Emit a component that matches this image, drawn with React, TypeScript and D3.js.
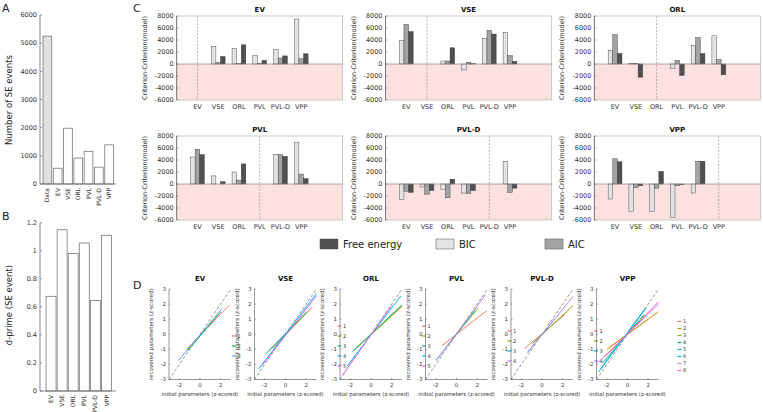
import React from 'react';
import * as d3 from 'd3';

const FONT = "'DejaVu Sans', sans-serif";

// Panel A
const catsA = ['Data', 'EV', 'VSE', 'ORL', 'PVL', 'PVL-D', 'VPP'];
const valsA = [5250, 560, 1980, 920, 1160, 600, 1390];
const ticksA = [0, 1000, 2000, 3000, 4000, 5000, 6000];

// Panel B
const catsB = ['EV', 'VSE', 'ORL', 'PVL', 'PVL-D', 'VPP'];
const valsB = [0.675, 1.15, 0.98, 1.055, 0.645, 1.11];
const ticksB = [0, 0.2, 0.4, 0.6, 0.8, 1, 1.2];

// Panel C
const models = ['EV', 'VSE', 'ORL', 'PVL', 'PVL-D', 'VPP'];
const ticksC = [-6000, -4000, -2000, 0, 2000, 4000, 6000, 8000];
const bicC = [
  [null, 2900, 2600, 1400, 2400, 7500],
  [3900, null, 500, -1000, 4300, 5300],
  [2300, 100, null, -700, 3100, 4700],
  [4500, 1350, 2000, null, 4900, 6900],
  [-2600, -500, -900, -1500, null, 3800],
  [-2500, -4600, -4600, -5600, -1500, null],
];
const aicC = [
  [null, 250, 50, 100, 1000, 900],
  [6600, null, 500, 300, 5600, 1400],
  [4900, 100, null, 600, 4400, 750],
  [5800, 0, 650, null, 4900, 1650],
  [-1200, -1700, -2300, -1600, null, -1400],
  [4200, -600, -700, -300, 3800, null],
];
const feC = [
  [null, 1250, 3200, 600, 1350, 1700],
  [5400, null, 2700, 50, 5000, 450],
  [1750, -2200, null, -1900, 1750, -1800],
  [4900, 400, 3350, null, 4600, 900],
  [-1400, -1100, 800, -1100, null, -700],
  [3700, -300, 2100, -100, 3800, null],
];
const legendC = ['Free energy', 'BIC', 'AIC'];

// Panel D : [x0, y0, x1, y1] for each parameter regression line
const linesEV = [[-1.3, -1.0, 2.8, 1.9], [-1.2, -1.1, 2.0, 1.5], [-2.1, -1.75, 2.2, 1.75]];
const linesVSE = [[-1.6, -1.1, 2.6, 1.8], [-1.2, -0.95, 2.2, 1.55], [-1.9, -1.3, 2.0, 1.45], [-2.6, -2.3, 3.0, 2.7], [-2.3, -2.1, 3.0, 2.55]];
const linesORL = [[-1.6, -1.05, 3.0, 1.9], [-1.3, -0.85, 3.0, 1.85], [-1.8, -1.15, 3.0, 1.95], [-2.3, -2.1, 2.9, 2.55], [-2.8, -2.75, 2.0, 1.9]];
const linesPVL = [[-1.4, -0.75, 2.9, 1.55], [-1.0, -0.85, 2.1, 1.75], [-2.0, -1.75, 1.8, 1.6], [-1.8, -1.6, 2.8, 2.6]];
const linesPVLD = [[-1.7, -0.95, 2.2, 1.3], [-0.9, -0.6, 3.0, 1.9], [-1.4, -1.2, 1.2, 1.0], [-1.4, -1.2, 3.0, 2.5]];
const linesVPP = [[-1.8, -0.9, 2.0, 1.0], [-2.0, -1.0, 3.0, 1.5], [-1.6, -1.1, 1.7, 1.25], [-2.4, -1.9, 1.6, 1.3], [-2.8, -2.5, 1.6, 1.6], [-2.6, -2.3, 1.8, 1.75], [-2.9, -1.9, 3.0, 2.0], [-2.2, -1.5, 3.0, 2.15]];
const dLines = [linesEV, linesVSE, linesORL, linesPVL, linesPVLD, linesVPP];
const ticksDY = [-3, -2, -1, 0, 1, 2, 3];
const ticksDX = [-2, 0, 2];

const pal3 = ['#F8766D', '#00BA38', '#619CFF'];
const pal4 = ['#F8766D', '#7CAE00', '#00BFC4', '#C77CFF'];
const pal5 = ['#F8766D', '#A3A500', '#00BF7D', '#00B0F6', '#E76BF3'];
const pal8 = ['#F8766D', '#CD9600', '#7CAE00', '#00BE67', '#00BFC4', '#00A9FF', '#C77CFF', '#FF61CC'];
const palFor = (n: number) => (n === 3 ? pal3 : n === 4 ? pal4 : n === 5 ? pal5 : pal8);

const AX = '#555';
const TXT = '#333';

function PanelA() {
  const y = d3.scaleLinear().domain([0, 6000]).range([184, 15]);
  const x = d3.scaleBand().domain(catsA).range([42.5, 114]).paddingInner(0.15).paddingOuter(0.05);
  return (
    <g>
      <text x={2} y={12} fontSize={11} fontFamily={FONT} fill="#222">A</text>
      {catsA.map((c, i) => (
        <rect key={c} x={x(c)} y={y(valsA[i])} width={x.bandwidth()} height={y(0) - y(valsA[i])}
          fill={i === 0 ? '#e0e0e0' : '#fff'} stroke="#777" strokeWidth={0.8} />
      ))}
      <line x1={40} x2={40} y1={15} y2={184} stroke={AX} strokeWidth={0.7} />
      <line x1={40} x2={116} y1={184} y2={184} stroke={AX} strokeWidth={0.7} />
      {ticksA.map(t => (
        <g key={t}>
          <line x1={40} x2={42} y1={y(t)} y2={y(t)} stroke={AX} strokeWidth={0.6} />
          <text x={37} y={y(t)} dy="0.35em" textAnchor="end" fontSize={6.5} fontFamily={FONT} fill={TXT}>{t}</text>
        </g>
      ))}
      {catsA.map(c => (
        <text key={c} transform={`translate(${(x(c) as number) + x.bandwidth() / 2},188) rotate(-90)`}
          textAnchor="end" dy="0.35em" fontSize={6} fontFamily={FONT} fill={TXT}>{c}</text>
      ))}
      <text transform={`translate(12,100) rotate(-90)`} textAnchor="middle" fontSize={8.5} fontFamily={FONT} fill="#222">Number of SE events</text>
    </g>
  );
}

function PanelB() {
  const y = d3.scaleLinear().domain([0, 1.2]).range([391, 222.7]);
  const x = d3.scaleBand().domain(catsB).range([45.5, 112]).paddingInner(0.1).paddingOuter(0.05);
  return (
    <g>
      <text x={2} y={220} fontSize={11} fontFamily={FONT} fill="#222">B</text>
      {catsB.map((c, i) => (
        <rect key={c} x={x(c)} y={y(valsB[i])} width={x.bandwidth()} height={y(0) - y(valsB[i])}
          fill="#fff" stroke="#777" strokeWidth={0.8} />
      ))}
      <line x1={40} x2={40} y1={222.7} y2={391} stroke={AX} strokeWidth={0.7} />
      <line x1={40} x2={116} y1={391} y2={391} stroke={AX} strokeWidth={0.7} />
      {ticksB.map(t => (
        <g key={t}>
          <line x1={40} x2={42} y1={y(t)} y2={y(t)} stroke={AX} strokeWidth={0.6} />
          <text x={37} y={y(t)} dy="0.35em" textAnchor="end" fontSize={6.5} fontFamily={FONT} fill={TXT}>{String(t)}</text>
        </g>
      ))}
      {catsB.map(c => (
        <text key={c} transform={`translate(${(x(c) as number) + x.bandwidth() / 2},395) rotate(-90)`}
          textAnchor="end" dy="0.35em" fontSize={6} fontFamily={FONT} fill={TXT}>{c}</text>
      ))}
      <text transform={`translate(12,305) rotate(-90)`} textAnchor="middle" fontSize={8.5} fontFamily={FONT} fill="#222">d-prime (SE event)</text>
    </g>
  );
}

const cLefts = [176.7, 385.5, 594.3];
const cTops = [16, 136];
const cW = 166;
const cH = 84;

function SubC({ k }: { k: number }) {
  const left = cLefts[k % 3];
  const top = cTops[Math.floor(k / 3)];
  const y = d3.scaleLinear().domain([-6000, 8000]).range([top + cH, top]);
  const x = d3.scaleLinear().domain([0, 8]).range([left, left + cW]);
  const bw = 4.6;
  const series = [bicC[k], aicC[k], feC[k]];
  const fills = ['#e3e3e3', '#a3a3a3', '#505050'];
  return (
    <g>
      <rect x={left} y={y(0)} width={cW} height={y(-6000) - y(0)} fill="#fde0e0" />
      <rect x={left} y={top} width={cW} height={cH} fill="none" stroke="#aaa" strokeWidth={0.6} />
      {series.map((s, si) =>
        s.map((v, i) => v === null ? null : (
          <rect key={`${si}-${i}`} x={x(i + 1) + (si - 1.5) * bw} y={Math.min(y(v), y(0))} width={bw}
            height={Math.abs(y(v) - y(0))} fill={fills[si]} stroke="#333" strokeWidth={0.4} />
        ))
      )}
      <line x1={left} x2={left + cW} y1={y(0)} y2={y(0)} stroke="#888" strokeWidth={0.7} />
      <line x1={x(k + 1)} x2={x(k + 1)} y1={top} y2={top + cH} stroke="#888" strokeWidth={0.6} strokeDasharray="2,1.5" />
      <line x1={left} x2={left} y1={top} y2={top + cH} stroke={AX} strokeWidth={0.7} />
      {ticksC.map(t => (
        <g key={t}>
          <line x1={left} x2={left + 2} y1={y(t)} y2={y(t)} stroke={AX} strokeWidth={0.5} />
          <text x={left - 3} y={y(t)} dy="0.35em" textAnchor="end" fontSize={6.5} fontFamily={FONT} fill={TXT}>{t}</text>
        </g>
      ))}
      {models.map((m, i) => (
        <text key={m} x={x(i + 1)} y={top + cH + 9} textAnchor="middle" fontSize={6.5} fontFamily={FONT} fill={TXT}>{m}</text>
      ))}
      <text x={left + cW / 2} y={top - 4} textAnchor="middle" fontSize={7} fontWeight="bold" fontFamily={FONT} fill="#111">{models[k]}</text>
      <text transform={`translate(${left - 30},${top + cH / 2}) rotate(-90)`} textAnchor="middle" fontSize={6.5} fontFamily={FONT} fill={TXT}>Criterion-Criterion(model)</text>
    </g>
  );
}

function PanelC() {
  const legX = [320, 436, 545];
  const legFill = ['#505050', '#e3e3e3', '#a3a3a3'];
  return (
    <g>
      <text x={133} y={12} fontSize={11} fontFamily={FONT} fill="#222">C</text>
      {models.map((m, k) => <SubC key={m} k={k} />)}
      {legendC.map((l, i) => (
        <g key={l}>
          <rect x={legX[i]} y={239} width={18} height={10} fill={legFill[i]} stroke="#555" strokeWidth={0.5} />
          <text x={legX[i] + 23} y={248} fontSize={10} fontFamily={FONT} fill="#222">{l}</text>
        </g>
      ))}
    </g>
  );
}

const dLeft0 = 169;
const dStep = 85.5;
const dW = 62;
const dTop = 289;
const dBot = 379.5;
const dLegOff = [63, 83, 82, 82, 83, 81];

function SubD({ k }: { k: number }) {
  const left = dLeft0 + k * dStep;
  const x = d3.scaleLinear().domain([-3, 3]).range([left, left + dW]);
  const y = d3.scaleLinear().domain([-3, 3]).range([dBot, dTop]);
  const lines = dLines[k];
  const pal = palFor(lines.length);
  const sp = lines.length > 5 ? 7 : 10;
  const ly0 = 346 - ((lines.length - 1) * sp) / 2;
  const lx = left + dLegOff[k];
  return (
    <g>
      <line x1={x(-3)} y1={y(-3)} x2={x(3)} y2={y(3)} stroke="#666" strokeWidth={0.7} strokeDasharray="3,2" />
      {lines.map((l, i) => (
        <line key={i} x1={x(l[0])} y1={y(l[1])} x2={x(l[2])} y2={y(l[3])} stroke={pal[i]} strokeWidth={1} />
      ))}
      <line x1={left} x2={left} y1={dTop} y2={dBot} stroke={AX} strokeWidth={0.6} />
      <line x1={left} x2={left + dW} y1={dBot} y2={dBot} stroke={AX} strokeWidth={0.6} />
      {ticksDY.map(t => (
        <g key={t}>
          <line x1={left} x2={left + 1.5} y1={y(t)} y2={y(t)} stroke={AX} strokeWidth={0.5} />
          <text x={left - 3} y={y(t)} dy="0.35em" textAnchor="end" fontSize={5.5} fontFamily={FONT} fill={TXT}>{t}</text>
        </g>
      ))}
      {ticksDX.map(t => (
        <g key={t}>
          <line x1={x(t)} x2={x(t)} y1={dBot} y2={dBot - 1.5} stroke={AX} strokeWidth={0.5} />
          <text x={x(t)} y={dBot + 7} textAnchor="middle" fontSize={5.5} fontFamily={FONT} fill={TXT}>{t}</text>
        </g>
      ))}
      <text x={left + dW / 2} y={281} textAnchor="middle" fontSize={7} fontWeight="bold" fontFamily={FONT} fill="#111">{models[k]}</text>
      <text x={left + dW / 2} y={396} textAnchor="middle" fontSize={5.4} fontFamily={FONT} fill={TXT}>initial parameters (z-scored)</text>
      <text transform={`translate(${left - 16},${(dTop + dBot) / 2}) rotate(-90)`} textAnchor="middle" fontSize={5.6} fontFamily={FONT} fill={TXT}>recovered parameters (z-scored)</text>
      {lines.map((l, i) => (
        <g key={`lg${i}`}>
          <line x1={lx} x2={lx + 4} y1={ly0 + i * sp} y2={ly0 + i * sp} stroke={pal[i]} strokeWidth={1.2} />
          <text x={lx + 5.5} y={ly0 + i * sp} dy="0.35em" fontSize={5} fontFamily={FONT} fill={TXT}>{i + 1}</text>
        </g>
      ))}
    </g>
  );
}

function PanelD() {
  return (
    <g>
      <text x={133} y={289} fontSize={11} fontFamily={FONT} fill="#222">D</text>
      {models.map((m, k) => <SubD key={m} k={k} />)}
    </g>
  );
}

export default function App() {
  return (
    <svg width={763} height={412} style={{ position: 'absolute', left: 0, top: 0, background: '#fff' }}>
      <rect x={0} y={0} width={763} height={412} fill="#fff" />
      <PanelA />
      <PanelB />
      <PanelC />
      <PanelD />
    </svg>
  );
}
